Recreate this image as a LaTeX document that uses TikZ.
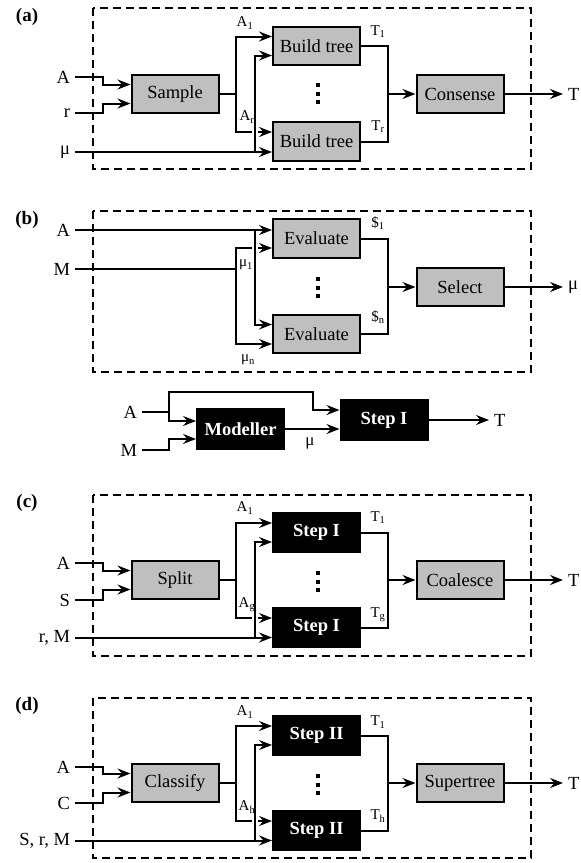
\documentclass[tikz,border=0pt]{standalone}
\usepackage{fontspec}
\setmainfont{Liberation Serif}
\usetikzlibrary{arrows.meta}

\begin{document}
\begin{tikzpicture}[x=1pt,y=-1pt,line width=2pt,
                    >={Stealth[length=13pt,width=10pt,inset=4.5pt]},
                    font=\fontsize{18.5}{22}\selectfont]
  \tikzstyle{gbox} = [draw, rectangle, fill=black!25, minimum width=87pt,
                      minimum height=38.5pt, inner sep=0pt]
  \tikzstyle{bbox} = [gbox, fill=black, text=white,
                      font=\fontsize{18.5}{22}\selectfont\bfseries]
  \tikzstyle{inlbl} = [anchor=east, inner sep=4pt]
  \tikzstyle{outlbl} = [anchor=west, inner sep=4pt]
  \tikzstyle{sub} = [inner sep=0pt, font=\fontsize{15}{17}\selectfont]
  \tikzstyle{panel} = [font=\fontsize{19}{22}\selectfont\bfseries]
  \tikzstyle{dashbox} = [dash pattern=on 8pt off 5pt]
  \tikzstyle{hop} = [preaction={draw=white, -, line width=6pt,
                     shorten <=3pt, shorten >=3pt}]
  \useasboundingbox (0,0) rectangle (581,863);

  % (a) consensus of bootstrapped trees
  \node[panel] (pa) at (27,17) {(a)};
  \draw[dashbox] (93,8) rectangle (531,169);
  \node[inlbl] (aA) at (75,77) {A};
  \node[inlbl] (ar) at (75,113) {r};
  \node[inlbl] (amu) at (75,152) {μ};
  \node[gbox] (sample) at (175,94) {Sample};
  \node[gbox] (build1) at (316.5,46) {Build tree};
  \node[gbox] (build2) at (316.5,141.5) {Build tree};
  \node[gbox] (consense) at (460,94) {Consense};
  \node[outlbl] (aT) at (563,94) {T};
  \coordinate (aj) at (388,94);
  \coordinate (amuj) at (255,152);
  \draw[->] (aA.east) -| (103,84.5) -- ([yshift=9.5pt]sample.west);
  \draw[->] (ar.east) -| (103,103.5) -- ([yshift=-9.5pt]sample.west);
  \draw[->] (sample.east) -| (236,36.5) -- ([yshift=9.5pt]build1.west);
  \draw[->] (sample.east) -| (236,132) -- ([yshift=9.5pt]build2.west);
  \draw[->] (amu.east) -- ([yshift=-10.5pt]build2.west);
  \draw[->, hop] (amuj) |- ([yshift=-9.5pt]build1.west);
  \draw (build1.east) -| (aj) |- (build2.east);
  \draw[->] (aj) -- (consense.west);
  \draw[->] (consense.east) -- (aT.west);
  \node[sub] at (245,23) {A\textsubscript{1}};
  \node[sub] at (247,117) {A\textsubscript{r}};
  \node[sub] at (378,32) {T\textsubscript{1}};
  \node[sub] at (378,127) {T\textsubscript{r}};
  \foreach \k in {0,1,2}
    \fill (316,83+8.5*\k) rectangle +(4,4);

  % (b) model selection
  \node[panel] (pb) at (27,220) {(b)};
  \draw[dashbox] (93,211) rectangle (531,372);
  \node[inlbl] (bA) at (75,230) {A};
  \node[inlbl] (bM) at (75,269) {M};
  \node[gbox] (eval1) at (316.5,238.5) {Evaluate};
  \node[gbox] (eval2) at (316.5,334) {Evaluate};
  \node[gbox] (select) at (460,287) {Select};
  \node[outlbl] (bmu) at (563,287) {μ};
  \coordinate (bj) at (388,287);
  \coordinate (bAj) at (255,230);
  \coordinate (bMj) at (236,269);
  \draw[->] (bM.east) -| (236,248) -- ([yshift=-9.5pt]eval1.west);
  \draw[->] (bMj) |- ([yshift=-10pt]eval2.west);
  \draw[->] (bA.east) -- ([yshift=8.5pt]eval1.west);
  \draw[->, hop] (bAj) |- ([yshift=9.5pt]eval2.west);
  \draw (eval1.east) -| (bj) |- (eval2.east);
  \draw[->] (bj) -- (select.west);
  \draw[->] (select.east) -- (bmu.west);
  \node[sub] at (246,265) {μ\textsubscript{1}};
  \node[sub] at (248,360) {μ\textsubscript{n}};
  \node[sub] at (378,223) {\$\textsubscript{1}};
  \node[sub] at (378,317) {\$\textsubscript{n}};
  \foreach \k in {0,1,2}
    \fill (316,277+8.5*\k) rectangle +(4,4);

  % step I
  \node[inlbl] (mA) at (142,412) {A};
  \node[inlbl] (mM) at (142,450) {M};
  \node[bbox, minimum height=40pt] (modeller) at (240.5,429) {Modeller};
  \node[bbox, minimum height=40pt] (stepI) at (384,420) {Step I};
  \node[outlbl] (mT) at (489,420) {T};
  \coordinate (mAj) at (169,412);
  \draw[->] (mA.east) -| (169,392) -| (313,410) -- ([yshift=10pt]stepI.west);
  \draw[->] (mAj) |- ([yshift=8pt]modeller.west);
  \draw[->] (mM.east) -| (169,439) -- ([yshift=-10pt]modeller.west);
  \draw[->] (modeller.east) -- (modeller.east -| stepI.west);
  \draw[->] (stepI.east) -- (mT.west);
  \node[sub, font=\fontsize{17}{20}\selectfont] at (310,443) {μ};

  % (c) split and coalesce
  \begin{scope}[yshift=-486pt]
    \node[panel] (pc) at (27,17) {(c)};
    \draw[dashbox] (93,9) rectangle (531,170);
    \node[inlbl] (cA) at (75,77) {A};
    \node[inlbl] (cS) at (75,114) {S};
    \node[inlbl] (crM) at (75,151.5) {r, M};
    \node[gbox] (split) at (175,94) {Split};
    \node[bbox] (cstep1) at (316.5,46.5) {Step I};
    \node[bbox] (cstep2) at (316.5,141.5) {Step I};
    \node[gbox] (coalesce) at (460,94) {Coalesce};
    \node[outlbl] (cT) at (563,94) {T};
    \coordinate (cj) at (388,94);
    \coordinate (crMj) at (255,151.5);
    \draw[->] (cA.east) -| (103,84.5) -- ([yshift=9.5pt]split.west);
    \draw[->] (cS.east) -| (103,103.5) -- ([yshift=-9.5pt]split.west);
    \draw[->] (split.east) -| (236,37) -- ([yshift=9.5pt]cstep1.west);
    \draw[->] (split.east) -| (236,132) -- ([yshift=9.5pt]cstep2.west);
    \draw[->] (crM.east) -- ([yshift=-10pt]cstep2.west);
    \draw[->, hop] (crMj) |- ([yshift=-9.5pt]cstep1.west);
    \draw (cstep1.east) -| (cj) |- (cstep2.east);
    \draw[->] (cj) -- (coalesce.west);
    \draw[->] (coalesce.east) -- (cT.west);
    \node[sub] at (245,22) {A\textsubscript{1}};
    \node[sub] at (247,119) {A\textsubscript{g}};
    \node[sub] at (378,32) {T\textsubscript{1}};
    \node[sub] at (378,129) {T\textsubscript{g}};
    \foreach \k in {0,1,2}
      \fill (316,85+8.5*\k) rectangle +(4,4);
  \end{scope}

  % (d) classify and supertree
  \begin{scope}[yshift=-689pt]
    \node[panel] (pd) at (27,17) {(d)};
    \draw[dashbox] (93,9) rectangle (531,169);
    \node[inlbl] (dA) at (75,78) {A};
    \node[inlbl] (dC) at (75,114) {C};
    \node[inlbl] (dSrM) at (75,151.5) {S, r, M};
    \node[gbox] (classify) at (175,94) {Classify};
    \node[bbox] (dstep1) at (316.5,46.5) {Step II};
    \node[bbox] (dstep2) at (316.5,141.5) {Step II};
    \node[gbox] (supertree) at (460,94) {Supertree};
    \node[outlbl] (dT) at (563,94) {T};
    \coordinate (dj) at (388,94);
    \coordinate (dSrMj) at (255,151.5);
    \draw[->] (dA.east) -| (103,84.5) -- ([yshift=9.5pt]classify.west);
    \draw[->] (dC.east) -| (103,103.5) -- ([yshift=-9.5pt]classify.west);
    \draw[->] (classify.east) -| (236,37) -- ([yshift=9.5pt]dstep1.west);
    \draw[->] (classify.east) -| (236,132) -- ([yshift=9.5pt]dstep2.west);
    \draw[->] (dSrM.east) -- ([yshift=-10pt]dstep2.west);
    \draw[->, hop] (dSrMj) |- ([yshift=-9.5pt]dstep1.west);
    \draw (dstep1.east) -| (dj) |- (dstep2.east);
    \draw[->] (dj) -- (supertree.west);
    \draw[->] (supertree.east) -- (dT.west);
    \node[sub] at (245,23) {A\textsubscript{1}};
    \node[sub] at (247,118) {A\textsubscript{h}};
    \node[sub] at (378,33) {T\textsubscript{1}};
    \node[sub] at (378,127) {T\textsubscript{h}};
    \foreach \k in {0,1,2}
      \fill (316,85+8.5*\k) rectangle +(4,4);
  \end{scope}
\end{tikzpicture}
\end{document}
